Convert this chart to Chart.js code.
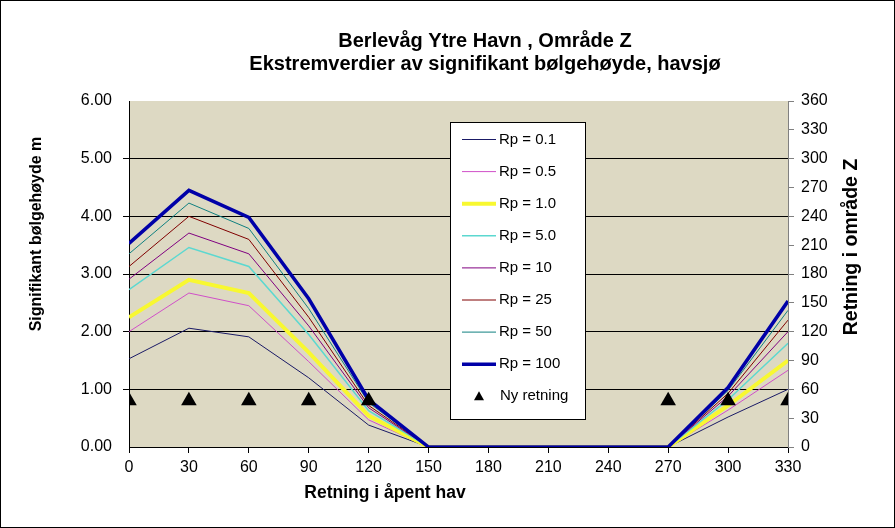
<!DOCTYPE html>
<html lang="no">
<head>
<meta charset="UTF-8">
<title>Berlevåg Ytre Havn, Område Z</title>
<script src="https://cdn.jsdelivr.net/npm/chart.js"></script>
<style>
  * { margin: 0; padding: 0; box-sizing: border-box; }
  body { background: #fff; width: 895px; height: 528px; overflow: hidden; }
  #wrap { width: 895px; height: 528px; }
</style>
</head>
<body>
<div id="wrap"><canvas id="chart" width="895" height="528"></canvas></div>
<script>
// Retning i åpent hav (grader)
const directions = [0, 30, 60, 90, 120, 150, 180, 210, 240, 270, 300, 330];

// Signifikant bølgehøyde (m) per returperiode
const rp01  = [1.53, 2.06, 1.91, 1.20, 0.38, 0, 0, 0, 0, 0, 0.52, 1.00];
const rp05  = [2.00, 2.67, 2.45, 1.48, 0.47, 0, 0, 0, 0, 0, 0.64, 1.33];
const rp10  = [2.25, 2.90, 2.67, 1.64, 0.54, 0, 0, 0, 0, 0, 0.72, 1.50];
const rp50  = [2.73, 3.46, 3.13, 1.95, 0.63, 0, 0, 0, 0, 0, 0.82, 1.80];
const rp100 = [2.91, 3.71, 3.35, 2.10, 0.68, 0, 0, 0, 0, 0, 0.88, 2.00];
const rp250 = [3.13, 4.00, 3.60, 2.25, 0.72, 0, 0, 0, 0, 0, 0.93, 2.20];
const rp500 = [3.35, 4.23, 3.79, 2.40, 0.77, 0, 0, 0, 0, 0, 0.98, 2.37];
const rp1000 = [3.53, 4.45, 3.98, 2.57, 0.82, 0, 0, 0, 0, 0, 1.03, 2.53];

// Ny retning (plottet mot høyre akse)
const nyDirections = [0, 30, 60, 90, 120, 270, 300, 330];
const nyValues = [48, 48, 48, 48, 48, 48, 48, 48];

const seriesLabels = ['Rp = 0.1', 'Rp = 0.5', 'Rp = 1.0', 'Rp = 5.0', 'Rp = 10', 'Rp = 25', 'Rp = 50', 'Rp = 100'];
const seriesData = [rp01, rp05, rp10, rp50, rp100, rp250, rp500, rp1000];
const seriesColors = ['#1a1a66', '#d050c8', '#f8f830', '#5cd8d0', '#800080', '#800000', '#108080', '#0000a8'];
const seriesWidths = [1, 1, 4, 1.5, 1, 1, 1, 3.5];

const heightTicks = [0, 1, 2, 3, 4, 5, 6];
const directionTicks = [0, 30, 60, 90, 120, 150, 180, 210, 240, 270, 300, 330, 360];

const FONT = 'Arial, "Liberation Sans", sans-serif';

const datasets = seriesData.map((vals, i) => ({
  label: seriesLabels[i],
  data: directions.map((d, j) => ({ x: d, y: vals[j] })),
  borderColor: seriesColors[i],
  backgroundColor: seriesColors[i],
  borderWidth: seriesWidths[i],
  pointRadius: 0,
  tension: 0,
  yAxisID: 'y',
  order: 20 - i
}));

datasets.push({
  label: 'Ny retning',
  data: nyDirections.map((d, j) => ({ x: d, y: nyValues[j] })),
  showLine: false,
  pointStyle: 'triangle',
  pointRadius: 9,
  pointBackgroundColor: '#000',
  pointBorderColor: '#000',
  pointBorderWidth: 0,
  yAxisID: 'y1',
  order: 0
});

const decor = {
  id: 'decor',
  beforeDraw(chart) {
    const { ctx, chartArea: a } = chart;
    ctx.save();
    ctx.fillStyle = '#fff';
    ctx.fillRect(0, 0, chart.width, chart.height);
    ctx.fillStyle = '#ddd9c3';
    ctx.fillRect(a.left, a.top, a.right - a.left, a.bottom - a.top);
    ctx.restore();
  },
  afterDraw(chart) {
    const { ctx } = chart;
    ctx.save();
    ctx.fillStyle = '#000';
    ctx.textAlign = 'center';
    ctx.textBaseline = 'middle';

    // titles
    ctx.font = 'bold 20px ' + FONT;
    ctx.fillText('Berlevåg Ytre Havn , Område Z', 485, 41);
    ctx.fillText('Ekstremverdier av signifikant bølgehøyde, havsjø', 485, 64);

    // axis titles
    ctx.font = 'bold 17.5px ' + FONT;
    ctx.fillText('Retning i åpent hav', 385, 493);

    ctx.save();
    ctx.translate(37, 234);
    ctx.rotate(-Math.PI / 2);
    ctx.font = 'bold 16px ' + FONT;
    ctx.fillText('Signifikant bølgehøyde m', 0, 0);
    ctx.restore();

    ctx.save();
    ctx.translate(852, 247);
    ctx.rotate(-Math.PI / 2);
    ctx.font = 'bold 19.5px ' + FONT;
    ctx.fillText('Retning i område Z', 0, 0);
    ctx.restore();

    // legend
    const lx = 450, ly = 122, lw = 135, lh = 297;
    ctx.fillStyle = '#fff';
    ctx.fillRect(lx, ly, lw, lh);
    ctx.strokeStyle = '#000';
    ctx.lineWidth = 1;
    ctx.strokeRect(lx + 0.5, ly + 0.5, lw, lh);
    ctx.font = '15px ' + FONT;
    ctx.textAlign = 'left';
    seriesLabels.forEach((lab, i) => {
      const y = 139.5 + i * 32.1;
      ctx.strokeStyle = seriesColors[i];
      ctx.lineWidth = seriesWidths[i];
      ctx.beginPath();
      ctx.moveTo(462, y);
      ctx.lineTo(496, y);
      ctx.stroke();
      ctx.fillStyle = '#000';
      ctx.fillText(lab, 499, y);
    });
    const ty = 139.5 + 8 * 32.1;
    ctx.beginPath();
    ctx.moveTo(479, ty - 5);
    ctx.lineTo(484, ty + 4);
    ctx.lineTo(474, ty + 4);
    ctx.closePath();
    ctx.fillStyle = '#000';
    ctx.fill();
    ctx.fillText('Ny retning', 500, ty);

    // outer frame
    ctx.strokeStyle = '#000';
    ctx.lineWidth = 1;
    ctx.strokeRect(0.5, 0.5, chart.width - 1, chart.height - 1);
    ctx.restore();
  }
};

new Chart(document.getElementById('chart'), {
  type: 'line',
  data: { datasets },
  options: {
    responsive: false,
    animation: false,
    devicePixelRatio: 1,
    layout: { padding: { top: 101, left: 0, right: 0, bottom: 0 } },
    plugins: {
      legend: { display: false },
      title: { display: false },
      tooltip: { enabled: false }
    },
    scales: {
      x: {
        type: 'linear',
        min: directions[0],
        max: directions[directions.length - 1],
        afterBuildTicks: (s) => { s.ticks = directions.map(v => ({ value: v })); },
        ticks: { color: '#000', font: { family: FONT, size: 16 }, padding: 5, maxRotation: 0, autoSkip: false },
        grid: { drawOnChartArea: false, tickLength: 6, color: '#000' },
        border: { color: '#000', width: 1 },
        afterFit: (s) => { s.height = 81; }
      },
      y: {
        position: 'left',
        min: 0,
        max: 6,
        afterBuildTicks: (s) => { s.ticks = heightTicks.map(v => ({ value: v })); },
        ticks: {
          color: '#000',
          font: { family: FONT, size: 16 },
          padding: 11,
          callback: (v) => Number(v).toFixed(2)
        },
        grid: {
          tickLength: 6,
          color: (c) => (c.tick && c.tick.value > 0 && c.tick.value < 6) ? '#000' : 'rgba(0,0,0,0)',
          lineWidth: 1
        },
        border: { color: '#000', width: 1 },
        afterFit: (s) => { s.width = 129; }
      },
      y1: {
        position: 'right',
        min: 0,
        max: 360,
        afterBuildTicks: (s) => { s.ticks = directionTicks.map(v => ({ value: v })); },
        ticks: { color: '#000', font: { family: FONT, size: 16 }, padding: 7 },
        grid: { drawOnChartArea: false, tickLength: 6, color: '#808080' },
        border: { color: '#808080', width: 1 },
        afterFit: (s) => { s.width = 107; }
      }
    }
  },
  plugins: [decor]
});
</script>
</body>
</html>
